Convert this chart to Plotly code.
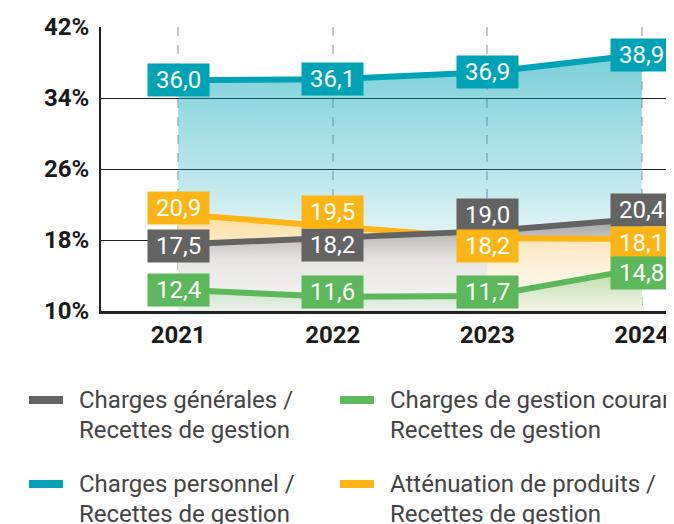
import plotly.graph_objects as go

# Données
annees = ["2021", "2022", "2023", "2024"]
charges_personnel = [36.0, 36.1, 36.9, 38.9]
charges_generales = [17.5, 18.2, 19.0, 20.4]
attenuation_produits = [20.9, 19.5, 18.2, 18.1]
charges_gestion_courante = [12.4, 11.6, 11.7, 14.8]

ticks_y = [10, 18, 26, 34, 42]

TEAL = "#00a3b5"
GRIS = "#636363"
ORANGE = "#fdb515"
VERT = "#5cb85a"

DEGRADE_TEAL = [[0, "rgba(0,163,181,0.0)"], [0.3, "rgba(0,163,181,0.12)"],
                [0.55, "rgba(0,163,181,0.28)"], [1, "rgba(0,163,181,0.52)"]]
DEGRADE_GRIS = [[0, "rgba(243,243,243,0.93)"], [0.5, "rgba(228,228,228,0.93)"],
                [1, "rgba(158,158,158,0.93)"]]
DEGRADE_ORANGE = [[0, "rgba(255,249,238,0.93)"], [0.5, "rgba(254,238,205,0.93)"],
                  [1, "rgba(253,220,155,0.93)"]]
DEGRADE_VERT = [[0, "rgba(92,184,90,0.06)"], [1, "rgba(92,184,90,0.42)"]]

# (nom légende, valeurs, couleur, dégradé, début du dégradé, décalage vertical des étiquettes en px)
personnel = ("Charges personnel /<br>Recettes de gestion", charges_personnel, TEAL,
             DEGRADE_TEAL, 10, [0, 0, 0, 0])
generales = ("Charges générales /<br>Recettes de gestion", charges_generales, GRIS,
             DEGRADE_GRIS, 11, [-2, -7, 16, 9])
attenuation = ("Atténuation de produits /<br>Recettes de gestion", attenuation_produits, ORANGE,
               DEGRADE_ORANGE, 12, [6, 15, -8, -4])
courante = ("Charges de gestion courantes /<br>Recettes de gestion", charges_gestion_courante, VERT,
            DEGRADE_VERT, 10, [0, 5, 4, -5])

fig = go.Figure()


def aire(x, serie, y):
    nom, valeurs, couleur, degrade, debut, decal = serie
    fig.add_trace(go.Scatter(
        x=x,
        y=y,
        mode="lines",
        line=dict(color=couleur, width=6),
        fill="tozeroy",
        fillgradient=dict(type="vertical", colorscale=degrade, start=debut, stop=max(valeurs)),
        hoverinfo="skip",
        showlegend=False,
    ))


aire(annees, personnel, charges_personnel)
aire(annees, attenuation, attenuation_produits)
aire(annees, generales, charges_generales)
# de 2023 à 2024 l'aire orange passe devant l'aire grise
aire(annees[2:], attenuation, attenuation_produits[2:])
aire(annees, courante, charges_gestion_courante)

# Étiquettes des valeurs (x = index de catégorie)
NBSP = "\u00a0"
for nom, valeurs, couleur, degrade, debut, decal in [personnel, generales, attenuation, courante]:
    for i, v in enumerate(valeurs):
        fig.add_annotation(
            x=i, y=v,
            yshift=decal[i],
            text=NBSP + f"{v:.1f}".replace(".", ",") + NBSP,
            showarrow=False,
            bgcolor=couleur,
            borderpad=2,
            font=dict(family="Roboto", size=24, color="white"),
        )

# Zone de tracé en pixels de la figure ; la page décale tout de 8 px
DECALAGE = 8
GAUCHE, DROITE, HAUT, BAS = 93, 674, 19, 303


def px_x(p):
    return (p - DECALAGE - GAUCHE) / (DROITE - GAUCHE)


def px_y(p):
    return (BAS - (p - DECALAGE)) / (BAS - HAUT)


# Légende dessinée à la main (2 colonnes x 2 lignes)
legende = [
    (generales, 27, 400),
    (courante, 338, 400),
    (personnel, 27, 484),
    (attenuation, 338, 484),
]
for (nom, valeurs, couleur, degrade, debut, decal), lx, ly in legende:
    fig.add_shape(
        type="line", xref="paper", yref="paper",
        x0=px_x(lx + 2), x1=px_x(lx + 36), y0=px_y(ly), y1=px_y(ly),
        line=dict(color=couleur, width=8),
    )
    for k, ligne in enumerate(nom.split("<br>")):
        fig.add_annotation(
            xref="paper", yref="paper",
            x=px_x(lx + 50), y=px_y(ly + 30 * k),
            xanchor="left", yanchor="middle", align="left",
            text=ligne, showarrow=False,
            font=dict(family="Roboto", size=24, color="#444444"),
        )

fig.update_layout(
    width=674,
    height=524,
    margin=dict(l=GAUCHE, r=0, t=HAUT, b=524 - BAS),
    paper_bgcolor="white",
    plot_bgcolor="white",
    showlegend=False,
)

fig.update_xaxes(
    type="category",
    range=[-0.5, 3.26],
    showgrid=True,
    gridcolor="#c8c8c8",
    gridwidth=1.5,
    griddash="dash",
    showline=True,
    linecolor="#222222",
    linewidth=3,
    ticks="",
    ticklabelstandoff=0,
    tickfont=dict(family="Roboto", size=24, color="#1a1a1a", weight="bold"),
)

fig.update_yaxes(
    range=[10, 42],
    tickvals=ticks_y,
    ticktext=[f"{t}%" for t in ticks_y],
    showgrid=True,
    gridcolor="#222222",
    gridwidth=1,
    zeroline=False,
    showline=True,
    linecolor="#222222",
    linewidth=2,
    ticks="",
    ticklabelstandoff=5,
    tickfont=dict(family="Roboto", size=24, color="#1a1a1a", weight="bold"),
)

fig.write_html("out.html")
